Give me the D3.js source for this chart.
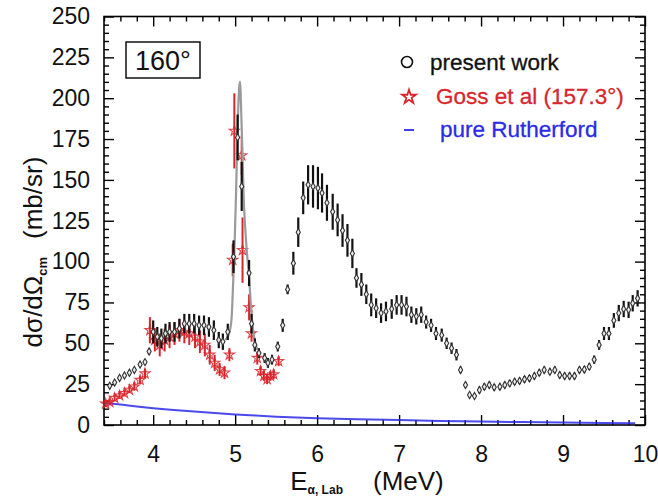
<!DOCTYPE html>
<html>
<head>
<meta charset="utf-8">
<script src="https://cdn.jsdelivr.net/npm/d3@7"></script>
<style>
  body { margin: 0; background: #fff; }
  svg { display: block; font-family: "Liberation Sans", Arial, sans-serif; }
</style>
</head>
<body>
<div id="chart"></div>
<script>
// present work (black points with error bars)
const workE = [3.47,3.53,3.59,3.65,3.71,3.77,3.84,3.90,3.95,
  4.00,4.05,4.10,4.15,4.20,4.26,4.32,4.38,4.44,4.50,4.56,4.62,4.68,4.74,4.80,4.85,4.91,
  4.98,5.03,5.08,5.17,5.20,5.24,5.29,5.36,5.40,5.45,5.52,5.58,5.64,5.71,5.77,5.83,5.89,
  5.95,6.01,6.06,6.12,6.19,6.25,6.31,6.37,6.43,6.48,6.54,6.60,6.66,6.72,6.78,6.84,6.91,
  6.97,7.03,7.09,7.15,7.21,7.27,7.33,7.39,7.45,7.52,7.58,7.64,7.70,7.75,7.81,7.86,7.92,
  7.98,8.04,8.10,8.16,8.23,8.29,8.35,8.41,8.47,8.53,8.59,8.65,8.71,8.77,8.84,8.90,8.96,
  9.02,9.08,9.14,9.20,9.26,9.32,9.38,9.44,9.50,9.56,9.62,9.68,9.74,9.80,9.85,9.91];
const workV = [24,26,28.8,30.3,32,33.7,37,38.5,45,
  57,54,53,56,57,57,59,62,62,62,61,61,60,58,52,51,57,
  103,176,146,93,62,49,44,41,38,40,48,61,83,99,118,139,147,
  146,145,142,136,130.5,125.5,119,113,105,90,86,80,73.5,71.5,68.5,69.5,71,
  73.5,73.5,72.5,67.5,66.5,67.5,63,61,56,55,50,47,43,33.7,24.5,18.4,17.7,
  21.4,23.4,24.5,23.1,23.4,24.5,25.5,26.5,27,28,28.6,30,32,33.7,32.6,33.7,30.6,
  30,30,30,33.7,34,35.7,40,49,56,56,64,68.5,71,70.5,74.5,77.5];
const workErr = [1.5,1.5,1.5,1.5,1.5,1.5,1.5,1.5,2,
  7,6,6,6,6,6,6,6,6,6,6,6,6,6,5,5,5,
  10,14,15,8,6,4,3,3,3,3,3,4,3,7,9,10,12,
  13,13,12,11,11,10,10,10,9,6,7,6,7,6,6,6,6,
  6,6,6,5,5,5,4,4,4,4,3.5,3.5,3.5,2,1.5,1.2,1.2,
  2,2,2,2,2,2,2,2,2,2,2,2,2,2,2,2,2,
  2,2,2,2,2,2,2.5,3,4,4,4.5,5,5,5,5,5];

// fine scan through the 5.05 MeV resonance (grey line)
const scanE = [4.88,4.92,4.95,4.97,4.99,5.01,5.03,5.05,5.06,5.07,5.09,5.11,5.14,5.17,5.20,5.23,5.27];
const scanV = [52,55,62,80,105,140,180,207,210,198,165,132,108,90,68,54,46];

// Goss et al (157.3 deg), red stars
const gossE = [3.42,3.47,3.53,3.59,3.65,3.71,3.77,3.84,3.90,3.96,4.02,4.08,4.14,4.20,4.26,4.32,
  4.38,4.44,4.51,4.57,4.63,4.69,4.75,4.81,4.87,4.93,4.97,4.99,5.08,5.09,5.17,5.20,5.27,5.31,
  5.35,5.39,5.43,5.47,5.53];
const gossV = [13,14,16.5,18,19.5,21.5,23.5,27.5,31.5,58,52,49,52,54,56,58,
  57,56,54,51,49,43,38,34,32,43,101,180,165,107,72,56,41,33,
  30,28,30,31,39];
const gossErr = [2,2,2,2,2,2,2.5,2.5,3,8,7,7,7,7,7,7,
  7,7,7,7,7,6,5,4,4,4,10,23,12,20,8,5,4,3,
  3,3,3,3,3];

// pure Rutherford (blue line)
const rutherE = [3.42,3.6,3.8,4.0,4.25,4.5,4.75,5.0,5.25,5.5,6.0,6.5,7.0,7.5,8.0,8.5,9.0,9.5,9.88];
const rutherV = [13.5,12.5,11.3,10.3,9.2,8.2,7.3,6.5,5.8,5.1,4.2,3.5,3.0,2.5,2.1,1.8,1.5,1.3,1.1];

const xTicks = [4,5,6,7,8,9,10];
const yTicks = [0,25,50,75,100,125,150,175,200,225,250];

const width = 658, height = 499;
const margin = {t:16.5, r:13, b:74, l:104};
const w = width - margin.l - margin.r;
const h = height - margin.t - margin.b;

const svg = d3.select('#chart').append('svg')
  .attr('width', width).attr('height', height);
const plot = svg.append('g')
  .attr('transform', `translate(${margin.l},${margin.t})`);

const scaleX = d3.scaleLinear().domain([3.4,10]).range([0,w]);
const scaleY = d3.scaleLinear().domain([0,250]).range([h,0]);

const xMinor = d3.range(3.4, 10.001, 0.2).filter(v => Math.abs(v - Math.round(v)) > 0.01);
const yMinor = d3.range(0, 251, 5).filter(v => v % 25 !== 0);

function styleAxis(g){
  g.select('.domain').remove();
  g.selectAll('line').attr('stroke','#000').attr('stroke-width',1.4);
  g.selectAll('text').attr('fill','#111').style('font-size','23px');
}

// bottom
plot.append('g').attr('transform',`translate(0,${h})`)
  .call(d3.axisBottom(scaleX).tickValues(xTicks).tickSize(-10).tickPadding(21).tickFormat(d3.format('d')))
  .call(styleAxis);
plot.append('g').attr('transform',`translate(0,${h})`)
  .call(d3.axisBottom(scaleX).tickValues(xMinor).tickSize(-5).tickFormat(''))
  .call(styleAxis);
// top
plot.append('g')
  .call(d3.axisTop(scaleX).tickValues(xTicks).tickSize(-10).tickFormat(''))
  .call(styleAxis);
plot.append('g')
  .call(d3.axisTop(scaleX).tickValues(xMinor).tickSize(-5).tickFormat(''))
  .call(styleAxis);
// left
plot.append('g')
  .call(d3.axisLeft(scaleY).tickValues(yTicks).tickSize(-10).tickPadding(14).tickFormat(d3.format('d')))
  .call(styleAxis);
plot.append('g')
  .call(d3.axisLeft(scaleY).tickValues(yMinor).tickSize(-5).tickFormat(''))
  .call(styleAxis);
// right
plot.append('g').attr('transform',`translate(${w},0)`)
  .call(d3.axisRight(scaleY).tickValues(yTicks).tickSize(-10).tickFormat(''))
  .call(styleAxis);
plot.append('g').attr('transform',`translate(${w},0)`)
  .call(d3.axisRight(scaleY).tickValues(yMinor).tickSize(-5).tickFormat(''))
  .call(styleAxis);

plot.append('rect').attr('width',w).attr('height',h)
  .attr('fill','none').attr('stroke','#000').attr('stroke-width',1.6);

// rutherford
const line = d3.line().x(d => scaleX(d[0])).y(d => scaleY(d[1]));
plot.append('path')
  .datum(d3.zip(rutherE, rutherV))
  .attr('d', line)
  .attr('fill','none').attr('stroke','#2a2ae8').attr('stroke-width',2).attr('opacity',0.85);

// goss et al
const goss = d3.zip(gossE, gossV, gossErr);
const red = '#d8262c';
plot.append('g').selectAll('line').data(goss).enter().append('line')
  .attr('x1', d => scaleX(d[0])).attr('x2', d => scaleX(d[0]))
  .attr('y1', d => scaleY(d[1]-d[2])).attr('y2', d => scaleY(d[1]+d[2]))
  .attr('stroke', red).attr('stroke-width',2);
const star = d3.symbol().type(d3.symbolStar).size(32);
plot.append('g').selectAll('path').data(goss).enter().append('path')
  .attr('d', star)
  .attr('transform', d => `translate(${scaleX(d[0])},${scaleY(d[1])})`)
  .attr('fill','none').attr('stroke',red).attr('stroke-width',1.1).attr('opacity',0.85);

// fine scan line
plot.append('path')
  .datum(d3.zip(scanE, scanV))
  .attr('d', d3.line().curve(d3.curveCatmullRom).x(d => scaleX(d[0])).y(d => scaleY(d[1])))
  .attr('fill','none').attr('stroke','#9a9a9a').attr('stroke-width',2.2);

// present work
const work = d3.zip(workE, workV, workErr);
plot.append('g').selectAll('line').data(work).enter().append('line')
  .attr('x1', d => scaleX(d[0])).attr('x2', d => scaleX(d[0]))
  .attr('y1', d => scaleY(d[1]-d[2])).attr('y2', d => scaleY(d[1]+d[2]))
  .attr('stroke','#111').attr('stroke-width',2.2);
const diamond = d3.symbol().type(d3.symbolDiamond).size(15);
plot.append('g').selectAll('path').data(work).enter().append('path')
  .attr('d', diamond)
  .attr('transform', d => `translate(${scaleX(d[0])},${scaleY(d[1])})`)
  .attr('fill','#eee').attr('stroke','#333').attr('stroke-width',1.1);

// angle box
const box = svg.append('g').attr('transform','translate(126,42)');
box.append('rect').attr('width',74).attr('height',36)
  .attr('fill','#fff').attr('stroke','#000').attr('stroke-width',1.4);
box.append('text').attr('x',37).attr('y',28).attr('text-anchor','middle')
  .style('font-size','27px').attr('fill','#111').text('160°');

// legend
const leg = svg.append('g').style('font-size','22.5px');
leg.append('circle').attr('cx',407).attr('cy',62).attr('r',5.5)
  .attr('fill','none').attr('stroke','#111').attr('stroke-width',1.6);
leg.append('text').attr('x',430).attr('y',70).attr('fill','#111')
  .attr('stroke','#111').attr('stroke-width',0.3)
  .text('present work');
leg.append('path').attr('d', d3.symbol().type(d3.symbolStar).size(60))
  .attr('transform','translate(409,97)')
  .attr('fill','none').attr('stroke',red).attr('stroke-width',1.8);
leg.append('text').attr('x',436).attr('y',104).attr('fill',red)
  .attr('stroke',red).attr('stroke-width',0.3)
  .text('Goss et al (157.3°)');
leg.append('line').attr('x1',404).attr('x2',414).attr('y1',130).attr('y2',130)
  .attr('stroke','#2a2ae8').attr('stroke-width',1.8);
leg.append('text').attr('x',440).attr('y',137).attr('fill','#2a2ae8')
  .attr('stroke','#2a2ae8').attr('stroke-width',0.3)
  .text('pure Rutherford');

// axis titles
const yt = svg.append('text')
  .attr('transform','translate(42,252) rotate(-90)')
  .attr('text-anchor','middle').style('font-size','26px').attr('fill','#111');
yt.append('tspan').text('dσ/dΩ');
yt.append('tspan').attr('dy',5).style('font-size','13px').style('font-weight','bold').text('cm');
yt.append('tspan').attr('dy',-5).attr('dx',18).text('(mb/sr)');

const xt = svg.append('text')
  .attr('x',367).attr('y',490)
  .attr('text-anchor','middle').style('font-size','26px').attr('fill','#111');
xt.append('tspan').text('E');
xt.append('tspan').attr('dy',4).style('font-size','12px').style('font-weight','bold').text('α, Lab');
xt.append('tspan').attr('dy',-4).attr('dx',30).text('(MeV)');
</script>
</body>
</html>
